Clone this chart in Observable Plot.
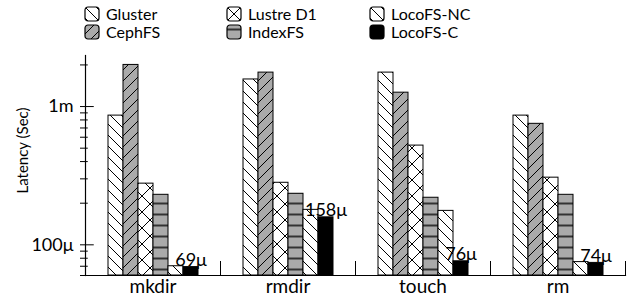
<!DOCTYPE html>
<html><head><meta charset="utf-8">
<script src="https://cdn.jsdelivr.net/npm/d3@7"></script>
<script src="https://cdn.jsdelivr.net/npm/@observablehq/plot@0.6"></script>
<style>
body{margin:0;background:#fff;font-family:Lato,sans-serif;}
#wrap{position:relative;width:636px;height:306px;overflow:hidden;background:#fff}
#legend{position:relative;height:44px;}
.item{position:absolute;display:flex;align-items:center;font-size:16px;color:#000;line-height:16px;height:16px}
.item svg{margin-right:6px;flex:none}
</style></head><body>
<div id="wrap"><div id="legend"></div><div id="chart"></div></div>
<script>
// ---- data ----
const operations = ["mkdir", "rmdir", "touch", "rm"];
const systems = ["Gluster", "CephFS", "Lustre D1", "IndexFS", "LocoFS-NC", "LocoFS-C"];
const gluster  = [0.86e-3, 1.57e-3, 1.76e-3, 0.86e-3];
const cephfs   = [2.0e-3, 1.76e-3, 1.26e-3, 0.75e-3];
const lustre   = [277e-6, 281e-6, 522e-6, 306e-6];
const indexfs  = [230e-6, 234e-6, 219e-6, 230e-6];
const locoNC   = [70e-6, 179e-6, 176e-6, 75e-6];
const locoC    = [69e-6, 158e-6, 76e-6, 74e-6];
const yMajorTicks = [1e-4, 1e-3];
const yMajorLabels = ["100μ", "1m"];
const yMinorTicks = [6e-5, 7e-5, 8e-5, 9e-5, 2e-4, 3e-4, 4e-4, 5e-4, 6e-4, 7e-4, 8e-4, 9e-4, 2e-3];
const yDomain = [6e-5, 2.34e-3];
const yTitle = "Latency (Sec)";

// ---- styles ----
const fills = ["url(#pBack)", "url(#pFwd)", "url(#pCross)", "url(#pHoriz)", "url(#pBack)", "#000"];
const legendCols = [84, 226, 369];
const legendRows = [6, 24];

const series = [gluster, cephfs, lustre, indexfs, locoNC, locoC];
const rows = systems.flatMap((s, i) => operations.map((op, j) => ({op, system: s, latency: series[i][j]})));

function defs() {
  const d = d3.create("svg:defs");
  const mk = (id, w, h, bg) => {
    const p = d.append("pattern").attr("id", id).attr("patternUnits", "userSpaceOnUse").attr("width", w).attr("height", h);
    p.append("rect").attr("width", w).attr("height", h).attr("fill", bg);
    return p;
  };
  mk("pBack", 11, 11, "#fff").append("path").attr("d", "M0,0L11,11M-1,10L1,12M10,-1L12,1").attr("stroke", "#000").attr("stroke-width", 1);
  mk("pFwd", 11, 11, "#aaa").append("path").attr("d", "M0,11L11,0M-1,1L1,-1M10,12L12,10").attr("stroke", "#000").attr("stroke-width", 1);
  mk("pCross", 16, 16, "#fff").append("path").attr("d", "M0,0L16,16M0,16L16,0").attr("stroke", "#000").attr("stroke-width", 1);
  mk("pHoriz", 11, 11, "#aaa").append("path").attr("d", "M0,5.5H11").attr("stroke", "#333").attr("stroke-width", 2);
  return d.node();
}

const W = 636, H = 262;
const mL = 79, mR = 6, mT = 11, mB = 31;
const fxRange = [84, 625];
const frameH = H - mT - mB;
const bandW = (fxRange[1] - fxRange[0]) / operations.length;
const axisOffset = mL - fxRange[0];
const firstOp = () => operations[0];

const plot = Plot.plot({
  width: W, height: H,
  marginTop: mT, marginBottom: mB, marginLeft: mL, marginRight: mR,
  style: {fontFamily: "Lato, sans-serif", fontSize: "18px", background: "#fff", color: "#000", overflow: "visible"},
  y: {type: "log", domain: yDomain, axis: null},
  fx: {domain: operations, range: fxRange, padding: 0, axis: null},
  x: {domain: systems, paddingInner: 0, paddingOuter: 1.22, axis: null},
  color: {domain: systems, range: fills},
  marks: [
    defs,
    Plot.barY(rows, {fx: "op", x: "system", y1: yDomain[0], y2: "latency", fill: "system", stroke: "#000", strokeWidth: 1}),
    Plot.text(rows.filter(d => d.system === "LocoFS-C"), {fx: "op", x: "system", y: "latency",
      text: d => Math.round(d.latency * 1e6) + "μ", lineAnchor: "bottom", dy: -1, fontSize: 18}),
    Plot.text(operations, {fx: d => d, text: d => d, frameAnchor: "bottom", dy: 17, fontSize: 19}),
    Plot.frame({anchor: "left", insetTop: frameH - 14, stroke: "#000"}),
    Plot.frame({anchor: "right", insetTop: frameH - 14, stroke: "#000"}),
    Plot.frame({anchor: "bottom", facet: "super", stroke: "#000", strokeWidth: 1.2}),
    Plot.frame({anchor: "left", facet: "super", stroke: "#000", strokeWidth: 1.2}),
    Plot.ruleY(yMajorTicks, {fx: firstOp, y: d => d, dx: axisOffset, insetRight: bandW - 14, stroke: "#000"}),
    Plot.ruleY(yMinorTicks, {fx: firstOp, y: d => d, dx: axisOffset, insetRight: bandW - 8, stroke: "#000"}),
    Plot.text(yMajorTicks, {fx: firstOp, y: d => d, text: (d, i) => yMajorLabels[i], frameAnchor: "left", textAnchor: "end", dx: axisOffset - 7, fontSize: 18}),
    Plot.text([yTitle], {fx: firstOp, text: d => d, frameAnchor: "left", textAnchor: "middle", rotate: -90, dx: axisOffset - 57, dy: -15, fontSize: 15})
  ]
});
document.getElementById("chart").appendChild(plot);

// legend
const legend = d3.select("#legend");
systems.forEach((s, i) => {
  const col = Math.floor(i / 2), row = i % 2;
  const item = legend.append("div").attr("class", "item")
    .style("left", legendCols[col] + "px").style("top", legendRows[row] + "px");
  const sv = item.append("svg").attr("width", 16).attr("height", 16);
  sv.append("rect").attr("x", 1).attr("y", 1).attr("width", 14).attr("height", 14).attr("rx", 3)
    .attr("fill", fills[i]).attr("stroke", "#000").attr("stroke-width", 1.2);
  item.append("span").text(s);
});
</script>
</body></html>
